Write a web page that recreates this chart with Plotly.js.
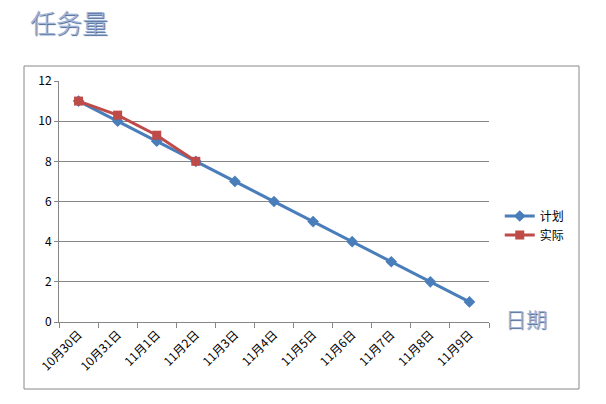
<!DOCTYPE html>
<html>
<head>
<meta charset="utf-8">
<script src="https://cdn.plot.ly/plotly-3.0.1.min.js"></script>
<style>html,body{margin:0;padding:0;background:#fff;}</style>
</head>
<body>
<div id="chart" style="width:606px;height:404px;"></div>
<script>
const categories = ['10月30日','10月31日','11月1日','11月2日','11月3日','11月4日','11月5日','11月6日','11月7日','11月8日','11月9日'];
const planValues = [11,10,9,8,7,6,5,4,3,2,1];
const actualCategories = ['10月30日','10月31日','11月1日','11月2日'];
const actualValues = [11,10.3,9.3,8];
const yTicks = [0,2,4,6,8,10,12];

const font = '"Noto Sans CJK SC", "Open Sans", sans-serif';
const traces = [
  {
    x: categories, y: planValues, name: '计划', type: 'scatter', mode: 'lines+markers',
    line: {color: '#4A7EBB', width: 3},
    marker: {symbol: 'diamond', size: 9, color: '#4A7EBB'}
  },
  {
    x: actualCategories, y: actualValues, name: '实际', type: 'scatter', mode: 'lines+markers',
    line: {color: '#BE4B48', width: 3},
    marker: {symbol: 'square', size: 9, color: '#BE4B48'}
  }
];

const layout = {
  width: 606, height: 404,
  margin: {l: 59, r: 117, t: 81, b: 82},
  paper_bgcolor: '#fff', plot_bgcolor: '#fff',
  font: {family: font, size: 11, color: '#000'},
  title: {
    text: '任务量', xref: 'container', yref: 'container',
    x: 30/606, xanchor: 'left', y: 1 - 24/404, yanchor: 'middle',
    font: {family: font, size: 26, weight: 300, color: '#9fb3d6', shadow: '1px 1px 1px #3f5f90'}
  },
  xaxis: {
    type: 'category', range: [-0.5, 10.5], showline: true, linecolor: '#868686', linewidth: 1,
    ticks: 'outside', tickson: 'boundaries', ticklen: 5, tickcolor: '#868686',
    tickangle: -45, showgrid: false, zeroline: false,
    tickfont: {family: font, size: 12, color: '#000'}
  },
  yaxis: {
    range: [0, 12], tickvals: yTicks, showline: true, linecolor: '#868686', linewidth: 1,
    ticks: 'outside', ticklen: 4, tickcolor: '#868686',
    showgrid: true, gridcolor: '#868686', gridwidth: 1, zeroline: false,
    tickfont: {family: font, size: 12, color: '#000'}
  },
  legend: {
    x: 1.025, xanchor: 'left', y: 0.5, yanchor: 'top',
    font: {family: font, size: 12, color: '#000'},
    itemwidth: 30, tracegroupgap: 0, bgcolor: 'rgba(0,0,0,0)'
  },
  shapes: [{
    type: 'rect', xref: 'paper', yref: 'paper', layer: 'below',
    x0: (24-59)/430, x1: (579-59)/430, y0: (322-389)/241, y1: (322-66)/241,
    line: {color: '#888', width: 1}, fillcolor: 'rgba(0,0,0,0)'
  }],
  annotations: [{
    text: '日期', xref: 'paper', yref: 'paper', x: (503-59)/430, xanchor: 'left',
    y: (322-318)/241, yanchor: 'middle', showarrow: false,
    font: {family: font, size: 21, weight: 300, color: '#9fb3d6', shadow: '1px 1px 1px #3f5f90'}
  }]
};

Plotly.newPlot('chart', traces, layout, {displayModeBar: false, staticPlot: true});
</script>
</body>
</html>
